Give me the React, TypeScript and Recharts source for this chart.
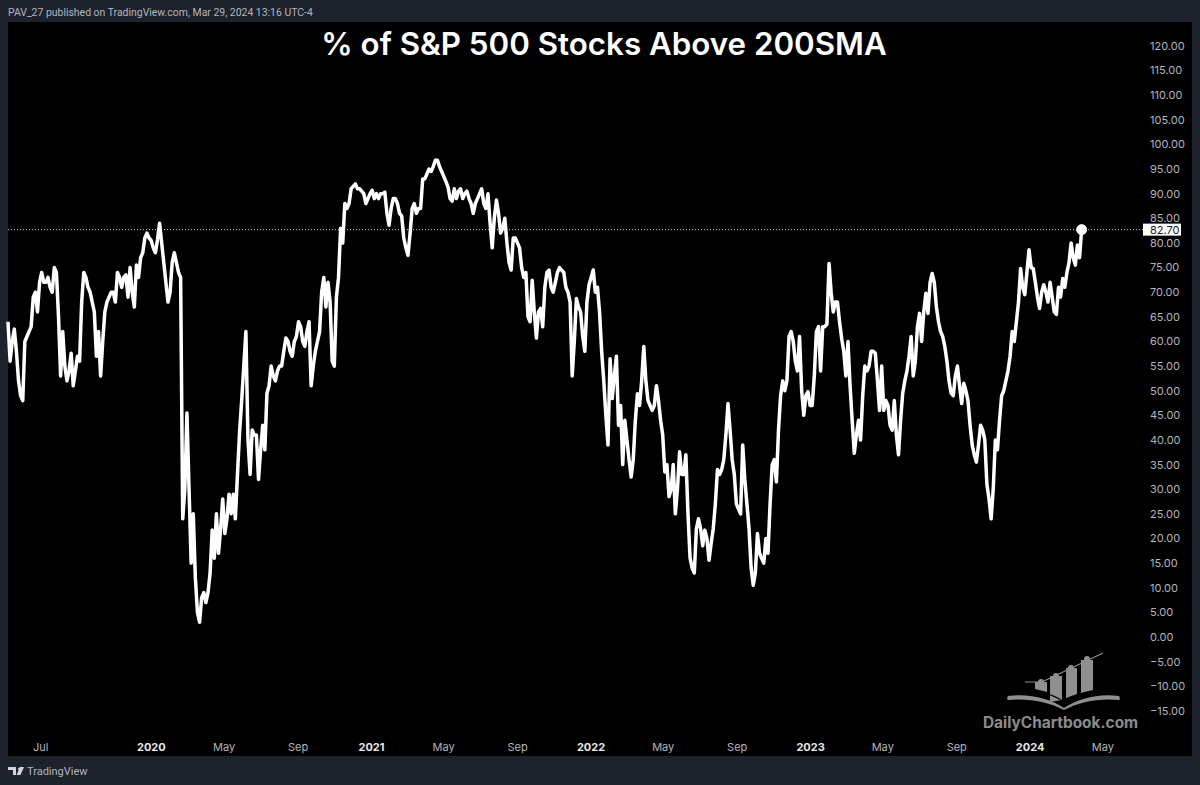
import { LineChart, Line, XAxis, YAxis, ReferenceLine, ReferenceDot } from "recharts"

const DAY = 86400000
const firstDay = Date.UTC(2019, 4, 6)
const lastDay = firstDay + 1887 * DAY

// % of S&P 500 stocks above the 200 day average, one reading every 3.5 days
const pct2019 = [
  64, 56, 60, 62.5, 58, 52, 49, 48, 60, 61, 62, 63, 69, 70, 66, 72, 74, 72, 72, 73,
  71, 70, 75, 74, 65, 53, 62, 55, 52, 54, 57.6, 51, 54, 57, 56, 68, 74, 73, 71, 70,
  68, 66, 57, 62, 53, 60, 66, 68, 69, 70, 70, 68, 74, 73, 71, 73, 73.5, 69, 75, 70,
  67, 75.5, 73, 77, 78, 81, 82, 81,
]
const pct2020 = [
  80.5, 79, 78, 80.6, 84, 80, 76, 72, 68, 70, 76, 78, 76, 74, 73, 24, 30, 45.5, 30, 15,
  25, 12, 5, 3, 8, 9, 7, 9, 13, 21.7, 16, 25, 17, 22, 28, 21, 24, 29, 25, 29,
  24, 33, 41.6, 48, 55, 62, 40, 33, 42, 41, 41, 32, 38, 43, 38, 49.5, 51, 55, 53, 52,
  54, 55, 55, 58, 60.7, 60, 58, 57, 60, 61, 64, 63, 60, 59, 62, 64, 51, 55, 58, 60,
  62, 70, 73, 67, 72, 68, 56, 55, 69, 73, 83, 80, 88, 87, 88, 91, 91.5, 92, 91, 91,
  90.5, 90, 88, 89,
]
const pct2021 = [
  90, 90.7, 89, 90, 89, 90, 90, 90.3, 86, 83.6, 87, 89, 89, 88, 86, 85.5, 81, 79, 77.5, 82,
  87, 88, 86, 87, 87, 93, 93, 94, 95, 94.5, 95.5, 96.8, 96.8, 95.5, 94.5, 93.5, 92.5, 91.4, 89, 88.5,
  91, 89, 90.5, 91, 89, 90, 90.5, 89, 88, 86, 88, 89, 90, 91, 88, 87, 90, 84, 79, 85,
  88.7, 86, 82, 83, 85, 80, 76, 74.5, 81, 81, 80, 79, 75, 73, 74, 65, 64, 72.4, 66, 60.7,
  66, 66.7, 63, 71, 74, 74.5, 71, 70, 72, 74, 75, 74.5, 74, 71, 70, 68, 53, 60, 68.7, 67,
  66, 61, 58, 68,
]
const pct2022 = [
  71.5, 73, 74.5, 70, 71, 66, 58, 52, 45, 39, 56.5, 48.4, 53, 57, 43, 47, 35, 44, 40, 36,
  32.5, 36, 44, 49.4, 47, 52, 59, 52, 48, 47, 46, 47, 51, 48, 44, 41, 33.5, 35, 28.5, 30,
  35, 25, 30, 37.6, 33, 33, 37, 25, 16, 14, 13, 22, 24, 22, 18.5, 21.7, 20, 15.6, 19, 22,
  27, 34, 33, 34, 36, 41, 47.4, 42, 36, 33, 27, 26, 25, 39, 32, 27, 22, 14, 10.5, 13,
  21, 17, 16, 15, 20, 17, 27, 35, 36, 31.5, 42, 49, 52, 50, 52, 61, 62, 60, 56, 54,
  61, 50, 45, 49,
]
const pct2023 = [
  49.8, 47, 47, 53, 62, 63, 54, 63, 63, 63.5, 75.8, 70, 66, 68, 68, 64, 60.6, 58, 53, 60,
  51, 44, 37.3, 41, 44, 40, 49, 55, 54, 55, 58, 58, 57.6, 52, 46, 55, 46, 48, 47, 43,
  42, 48, 41, 37, 44, 49.5, 52, 54, 57, 61, 53, 56, 63, 65.7, 60, 66, 69.8, 65.7, 72, 73.8,
  72, 67, 64, 62, 61, 59, 56, 52, 49.5, 49, 53, 55, 51, 47.4, 51.5, 50, 48, 43, 39, 37,
  35.5, 39, 43, 42, 40, 31, 28, 24, 30, 40, 38, 44, 49, 50, 52, 54, 57, 62, 60, 64,
  68, 74.8, 71, 69.5, 74, 78.6,
]
const pct2024 = [
  75, 74.8, 72, 69, 66.7, 70, 71.5, 70, 68, 72, 69, 66, 65.5, 71, 69, 72.8, 71, 74, 76, 80,
  77, 75.5, 79.6, 77, 82.7,
]

const readings = [...pct2019, ...pct2020, ...pct2021, ...pct2022, ...pct2023, ...pct2024]
const lastPct = readings[readings.length - 1]

const dateTicks: [number, number, string][] = [
  [2019, 6, "Jul"], [2020, 0, "2020"], [2020, 4, "May"], [2020, 8, "Sep"],
  [2021, 0, "2021"], [2021, 4, "May"], [2021, 8, "Sep"],
  [2022, 0, "2022"], [2022, 4, "May"], [2022, 8, "Sep"],
  [2023, 0, "2023"], [2023, 4, "May"], [2023, 8, "Sep"],
  [2024, 0, "2024"], [2024, 4, "May"],
]
const xTicks = dateTicks.map(([y, m]) => Date.UTC(y, m, 1))
const xLabels = dateTicks.map((t) => t[2])
const yTicks = [
  120, 115, 110, 105, 100, 95, 90, 85, 80, 75, 70, 65, 60, 55, 50, 45, 40, 35, 30, 25,
  20, 15, 10, 5, 0, -5, -10, -15,
]

const chartData = readings.map((pct, i) => ({ day: firstDay + i * 3.5 * DAY, pct }))
const FONT = "Inter, 'Noto Sans', sans-serif"

function formatPct(v: number) {
  return (v < 0 ? "\u2212" : "") + Math.abs(v).toFixed(2)
}

function DateTick({ x, y, payload }: any) {
  const label = xLabels[xTicks.indexOf(payload.value)]
  const isYear = label.length === 4
  return (
    <text
      x={x - 1}
      y={y + 15}
      textAnchor="middle"
      fontFamily={FONT}
      fontSize={11}
      fontWeight={isYear ? 700 : 400}
      fill={isYear ? "#e8e8ea" : "#b2b5be"}
    >
      {label}
    </text>
  )
}

function PriceTag({ viewBox }: any) {
  const left = viewBox.x + viewBox.width
  const mid = viewBox.y
  return (
    <g>
      <rect x={left} y={mid - 6} width={38} height={12} fill="#ffffff" />
      <text x={left + 7} y={mid + 4} fontFamily={FONT} fontSize={11} fill="#131722">
        {lastPct.toFixed(2)}
      </text>
    </g>
  )
}

function Watermark() {
  return (
    <svg width={1200} height={785} style={{ position: "absolute", left: 0, top: 0, pointerEvents: "none" }}>
      <g fill="#8f8f8f">
        <path d="M1035 682h12v10l-12-3z" />
        <path d="M1050 676h12v24l-12 2z" />
        <path d="M1066 668h11v26l-11 4z" />
        <path d="M1081 660h12v30l-12 3z" />
        <circle cx={1041} cy={682} r={3} />
        <circle cx={1056} cy={676} r={3} />
        <circle cx={1071} cy={668} r={3} />
        <circle cx={1087} cy={659} r={3} />
        <path d="M1008 696c20-3 42 2 56 12 14-10 36-15 55-12 1 1 1 4 0 4-20-2-40 2-55 10-15-8-36-12-56-10-1 0-1-3 0-4z" />
      </g>
      <path d="M1025 682h17l61-29" fill="none" stroke="#8f8f8f" strokeWidth={1.2} />
      <path d="M1018 692c18-3 35 2 46 10 11-8 29-13 45-10" fill="none" stroke="#000" strokeWidth={1.2} />
      <text x={983} y={728} fontFamily={FONT} fontSize={15.4} fontWeight={700} fill="#8c8c8c">
        DailyChartbook.com
      </text>
      <path d="M8 767h8v8h-3v-5h-5zM18 769a1.5 1.5 0 1 1 0 .1zM20 767h4l-3.5 8h-4z" fill="#d1d4dc" />
      <text x={27} y={775} fontFamily="Roboto, sans-serif" fontSize={11} fill="#b2b5be">TradingView</text>
    </svg>
  )
}

export default function App() {
  return (
    <div style={{ position: "absolute", left: 0, top: 0, width: 1200, height: 785, background: "#1e222d", overflow: "hidden" }}>
      <div style={{ position: "absolute", left: 8, top: 22, width: 1184, height: 734, background: "#000" }} />
      <div style={{ position: "absolute", left: 8, top: 6, fontFamily: "Roboto, sans-serif", fontSize: 10.45, color: "#b2b5be", whiteSpace: "nowrap" }}>
        PAV_27 published on TradingView.com, Mar 29, 2024 13:16 UTC-4
      </div>
      <div style={{ position: "absolute", left: 0, width: 1208, top: 25, textAlign: "center", fontFamily: FONT, fontSize: 31.3, fontWeight: 600, color: "#fff", whiteSpace: "nowrap" }}>
        % of S&amp;P 500 Stocks Above 200SMA
      </div>
      <div style={{ position: "absolute", left: 0, top: 0 }}>
        <LineChart width={1200} height={785} data={chartData} margin={{ top: 22, right: 8, bottom: 29, left: 8 }}>
          <XAxis
            dataKey="day"
            type="number"
            domain={[firstDay, lastDay]}
            ticks={xTicks}
            interval={0}
            height={28}
            axisLine={false}
            tickLine={false}
            tick={<DateTick />}
          />
          <YAxis
            orientation="right"
            width={49}
            domain={[-18.47, 124.85]}
            ticks={yTicks}
            interval={0}
            allowDataOverflow
            axisLine={false}
            tickLine={false}
            tickSize={0}
            tickMargin={7}
            tickFormatter={formatPct}
            tick={{ fontFamily: FONT, fontSize: 11, fill: "#b2b5be" }}
          />
          <ReferenceLine y={lastPct} stroke="#d8d8d8" strokeDasharray="1 2" label={<PriceTag />} />
          <Line
            dataKey="pct"
            type="linear"
            stroke="#ffffff"
            strokeWidth={3.5}
            strokeLinejoin="round"
            dot={false}
            isAnimationActive={false}
          />
          <ReferenceDot x={chartData[chartData.length - 1].day} y={lastPct} r={5} fill="#ffffff" stroke="#ffffff" />
        </LineChart>
      </div>
      <Watermark />
    </div>
  )
}
